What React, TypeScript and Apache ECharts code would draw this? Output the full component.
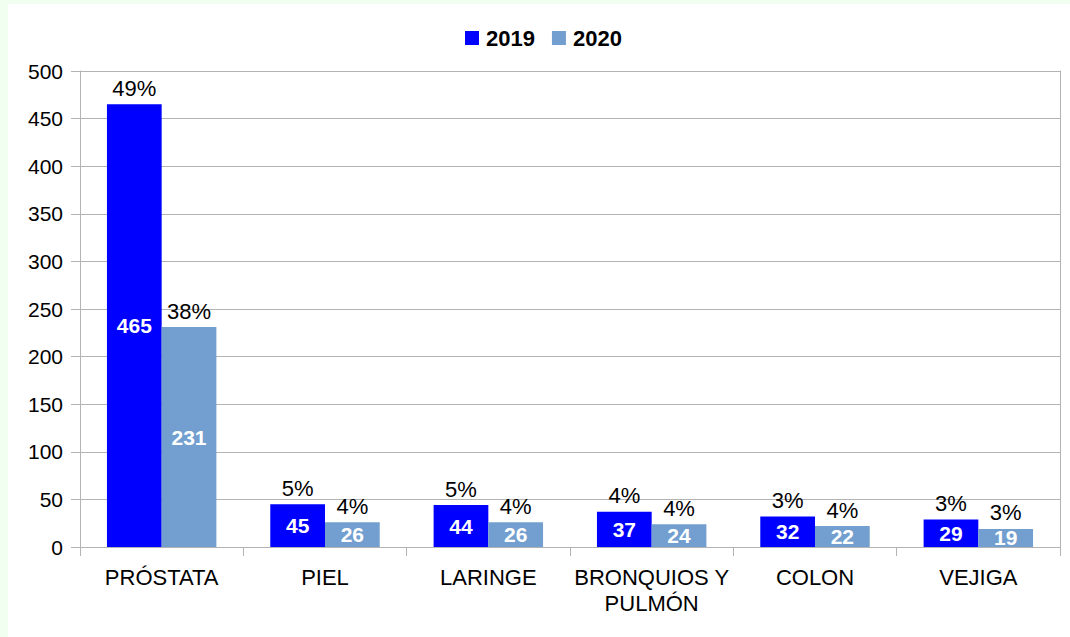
import React, { useEffect, useRef } from "react";
import * as echarts from "echarts";

const categories = ["PRÓSTATA", "PIEL", "LARINGE", "BRONQUIOS Y\nPULMÓN", "COLON", "VEJIGA"];
const values2019 = [465, 45, 44, 37, 32, 29];
const values2020 = [231, 26, 26, 24, 22, 19];
const pct2019 = [49, 5, 5, 4, 3, 3];
const pct2020 = [38, 4, 4, 4, 4, 3];
const yTicks = { min: 0, max: 500, interval: 50 };

const FONT = "Liberation Sans";
const GRID = "#b3b3b3";
const C2019 = "#0000ff";
const C2020 = "#729fcf";

export default function App() {
  const ref = useRef<HTMLDivElement>(null);
  useEffect(() => {
    document.body.style.margin = "4px 0 0 8px";
    document.body.style.background = "#f0fff0";
    const chart = echarts.init(ref.current!, undefined, { renderer: "svg" });
    const zeros = categories.map(() => 0);
    const common = { type: "bar" as const, barGap: "0%", barCategoryGap: "33%" };
    chart.setOption({
      animation: false,
      backgroundColor: "#ffffff",
      textStyle: { fontFamily: FONT },
      legend: {
        data: ["2019", "2020"],
        top: 18,
        left: 452,
        icon: "rect",
        itemWidth: 14,
        itemHeight: 14,
        itemGap: 17,
        textStyle: { fontFamily: FONT, fontSize: 22, fontWeight: "bold", color: "#000", padding: [0, 0, 0, 2] },
      },
      grid: { left: 72, right: 10, top: 67, bottom: 90, containLabel: false },
      xAxis: {
        type: "category",
        data: categories,
        axisLine: { show: true, lineStyle: { color: GRID } },
        axisTick: { show: true, length: 9, interval: 0, lineStyle: { color: GRID } },
        axisLabel: { interval: 0, margin: 17, color: "#000", fontFamily: FONT, fontSize: 22, lineHeight: 26 },
      },
      yAxis: [
        {
          type: "value",
          min: yTicks.min,
          max: yTicks.max,
          interval: yTicks.interval,
          axisLine: { show: true, lineStyle: { color: GRID } },
          axisTick: { show: true, length: 9, lineStyle: { color: GRID } },
          splitLine: { show: true, lineStyle: { color: GRID } },
          axisLabel: { margin: 17, color: "#000", fontFamily: FONT, fontSize: 21 },
        },
        {
          type: "value",
          position: "right",
          min: yTicks.min,
          max: yTicks.max,
          interval: yTicks.interval,
          axisLine: { show: true, lineStyle: { color: GRID } },
          axisTick: { show: false },
          splitLine: { show: false },
          axisLabel: { show: false },
        },
      ],
      series: [
        {
          ...common,
          name: "2019",
          stack: "a",
          data: values2019,
          itemStyle: { color: C2019 },
          label: { show: true, position: "inside", color: "#fff", fontWeight: "bold", fontSize: 21, fontFamily: FONT },
        },
        {
          ...common,
          name: "2019pct",
          stack: "a",
          data: zeros,
          itemStyle: { color: C2019 },
          label: {
            show: true,
            position: "top",
            distance: 5,
            color: "#000",
            fontSize: 22,
            fontFamily: FONT,
            formatter: (p: any) => pct2019[p.dataIndex] + "%",
          },
        },
        {
          ...common,
          name: "2020",
          stack: "b",
          data: values2020,
          itemStyle: { color: C2020 },
          label: { show: true, position: "inside", color: "#fff", fontWeight: "bold", fontSize: 21, fontFamily: FONT },
        },
        {
          ...common,
          name: "2020pct",
          stack: "b",
          data: zeros,
          itemStyle: { color: C2020 },
          label: {
            show: true,
            position: "top",
            distance: 5,
            color: "#000",
            fontSize: 22,
            fontFamily: FONT,
            formatter: (p: any) => pct2020[p.dataIndex] + "%",
          },
        },
      ],
    });
    return () => chart.dispose();
  }, []);
  return <div ref={ref} style={{ width: 1062, height: 633 }} />;
}
